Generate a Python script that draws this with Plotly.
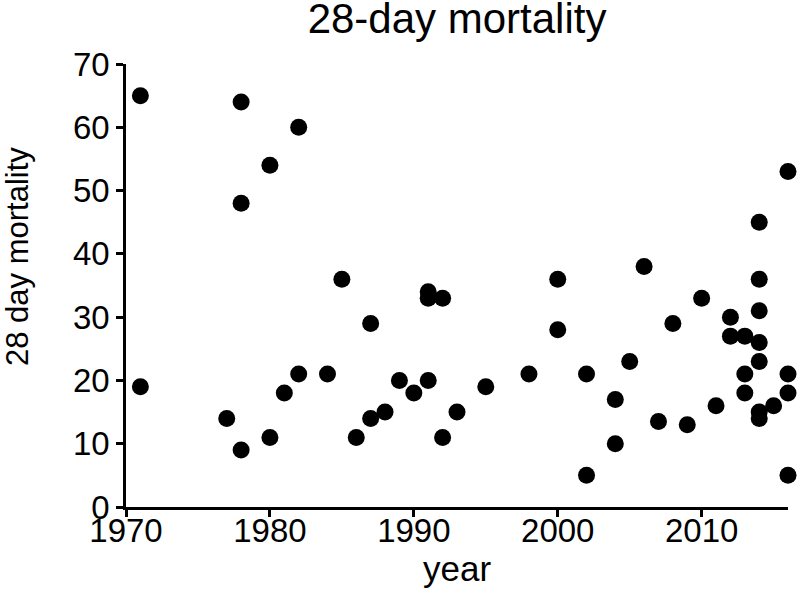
import plotly.graph_objects as go

years = [1971, 1971, 1977, 1978, 1978, 1978, 1980, 1980, 1981, 1982, 1982, 1984,
         1985, 1986, 1987, 1987, 1988, 1989, 1990, 1991, 1991, 1991, 1992, 1992,
         1993, 1995, 1998, 2000, 2000, 2002, 2002, 2004, 2004, 2005, 2006, 2007,
         2008, 2009, 2010, 2011, 2012, 2012, 2013, 2013, 2013, 2014, 2014, 2014,
         2014, 2014, 2014, 2014, 2015, 2016, 2016, 2016, 2016]
mortality = [65, 19, 14, 64, 48, 9, 54, 11, 18, 60, 21, 21,
             36, 11, 29, 14, 15, 20, 18, 34, 33, 20, 33, 11,
             15, 19, 21, 36, 28, 21, 5, 17, 10, 23, 38, 13.5,
             29, 13, 33, 16, 30, 27, 27, 21, 18, 45, 36, 31,
             26, 23, 15, 14, 16, 53, 21, 18, 5]

x_ticks = [1970, 1980, 1990, 2000, 2010]
y_ticks = [0, 10, 20, 30, 40, 50, 60, 70]

FONT = "Liberation Sans, Arial, sans-serif"

fig = go.Figure(
    go.Scatter(
        x=years, y=mortality, mode="markers",
        marker=dict(size=17, color="black", line=dict(width=0)),
        cliponaxis=False, showlegend=False,
    )
)

axis_common = dict(
    showgrid=False, zeroline=False, showline=True, linecolor="black", linewidth=2.5,
    ticks="outside", ticklen=7, tickwidth=2.5, tickcolor="black",
    tickfont=dict(family=FONT, size=33, color="black"),
)

fig.update_layout(
    width=800, height=595,
    paper_bgcolor="white", plot_bgcolor="white",
    margin=dict(l=126, r=12, t=64, b=88),
    font=dict(family=FONT, color="black"),
    title=dict(text="28-day mortality", x=0.5713, xanchor="center",
               y=1 - 18 / 595, yanchor="middle", yref="container",
               font=dict(family=FONT, size=42, color="black")),
    xaxis=dict(range=[1970, 2016], tickvals=x_ticks, ticktext=[str(v) for v in x_ticks],
               ticklabelstandoff=-14,
               title=dict(text="year", standoff=6, font=dict(family=FONT, size=35, color="black")),
               **axis_common),
    yaxis=dict(range=[0, 70], tickvals=y_ticks, ticktext=[str(v) for v in y_ticks],
               **axis_common),
    annotations=[dict(text="28 day mortality", textangle=-90, xref="paper", yref="paper",
                      x=(17 - 126) / 662, xanchor="center", y=(507 - 257) / 443, yanchor="middle",
                      showarrow=False, font=dict(family=FONT, size=31, color="black"))],
)

fig.write_html(
    "out.html",
    config={"displayModeBar": False},
    post_script="document.body.style.margin='0';document.body.style.overflow='hidden';",
)
